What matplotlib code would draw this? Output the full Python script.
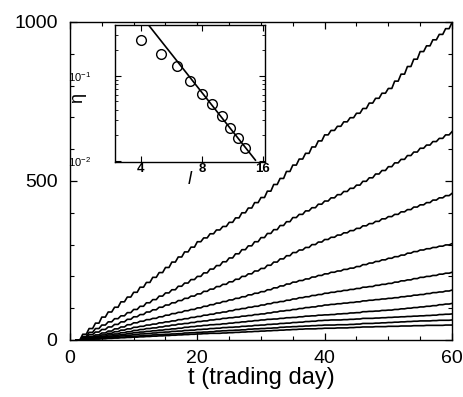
import numpy as np
import matplotlib
matplotlib.use("Agg")
import matplotlib.pyplot as plt
from matplotlib.ticker import MultipleLocator, FixedLocator, FixedFormatter, NullLocator, LogLocator

plt.rcParams['font.family'] = ['Liberation Sans', 'DejaVu Sans']
plt.rcParams['mathtext.fontset'] = 'custom'
plt.rcParams['mathtext.rm'] = 'Liberation Sans'
plt.rcParams['mathtext.it'] = 'Liberation Sans:italic'

# trading days
days = np.arange(1, 61)

# cumulative curves, one per threshold l (top = smallest l)
c1 = [0,18,36,53,72, 88,103,120,135,150, 166,181,197,212,228, 245,261,277,292,309,
      321,334,346,357,370, 384,400,415,432,448, 468,489,508,530,550, 569,587,607,626,645,
      659,672,686,699,713, 728,745,760,776,791, 814,836,860,883,907, 925,944,961,979,998]
c2 = [0,11,24,36,47, 57,67,76,86,96, 106,117,127,138,148, 158,169,179,190,200,
      211,223,234,246,258, 271,284,296,309,322, 335,347,360,372,385, 395,406,416,427,437,
      447,457,467,477,487, 499,510,522,533,545, 557,568,580,591,603, 613,624,634,645,655]
c3 = [0,8,17,25,33, 41,49,57,65,73, 80,88,95,103,110, 117,124,131,138,145,
      153,160,168,175,183, 191,200,208,217,225, 235,245,255,265,275, 283,291,300,308,316,
      323,330,337,344,351, 359,366,373,381,388, 395,403,410,418,425, 432,440,447,454,461]
c4 = [0,5,11,16,22, 28,35,41,48,54, 59,64,68,73,78, 83,87,92,96,101,
      106,111,116,121,126, 131,136,142,147,152, 158,164,170,176,182, 187,192,198,203,208,
      213,217,222,226,231, 237,242,247,252,257, 262,267,273,278,283, 287,291,295,299,303]
c5 = [0,4,8,12,16, 21,26,31,35,40, 43,47,50,54,57, 60,64,67,71,74,
      78,81,85,88,92, 96,99,103,106,110, 114,118,121,125,129, 133,136,140,143,147,
      150,153,156,159,162, 166,168,172,175,178, 182,186,189,193,197, 200,203,207,210,213]
c6 = [0,3,6,9,12, 16,19,23,26,30, 33,36,38,41,44, 47,50,52,55,58,
      60,63,65,68,70, 72,75,77,80,82, 85,88,91,93,96, 99,102,104,107,110,
      112,114,116,118,120, 123,125,127,129,131, 133,136,138,141,143, 146,149,151,154,157]
c7 = [0,2,5,7,9, 12,15,17,20,23, 25,27,29,31,33, 35,37,40,42,44,
      46,48,49,51,53, 55,57,59,61,63, 65,66,68,70,71, 73,75,76,78,79,
      80,82,83,85,86, 89,90,91,93,94, 96,98,100,102,104, 106,108,111,113,115]
c8 = [0,2,3,5,7, 9,11,13,15,17, 19,20,22,24,25, 27,28,30,31,33,
      34,36,37,39,40, 41,43,44,46,47, 49,50,52,53,55, 56,58,59,61,62,
      63,63,64,65,66, 68,68,69,70,71, 72,73,74,75,76, 77,78,80,81,82]
c9 = [0,1,2,4,5, 6,8,9,11,12, 13,14,16,17,18, 19,20,22,23,24,
      25,26,28,29,30, 31,32,34,35,36, 37,38,40,41,42, 43,44,45,46,47,
      47,48,48,49,50, 52,52,53,54,55, 56,57,58,59,60, 60,61,62,62,63]
c10 = [0,1,2,3,4, 5,6,7,8,9, 10,11,12,13,14, 15,16,17,18,19,
       20,21,21,22,23, 24,25,26,27,28, 29,30,31,32,33, 34,35,35,36,37,
       37,38,38,39,40, 41,41,42,42,43, 43,44,44,45,45, 46,46,46,47,47]
curves = [c1, c2, c3, c4, c5, c6, c7, c8, c9, c10]

# inset data
l_vals = [4, 5, 6, 7, 8, 9, 10, 11, 12, 13]
eta_vals = [0.263, 0.178, 0.128, 0.087, 0.061, 0.046, 0.034, 0.0243, 0.0187, 0.0141]
fit_l = [4.4, 14.7]
fit_eta = [0.38, 0.0103]

fig = plt.figure(figsize=(4.63, 3.97), dpi=100)
ax = fig.add_axes([0.1512, 0.1436, 0.825, 0.801])

# each day: flat part, then a sloped rise to the next day's value
xs = np.column_stack([days, days + 0.55]).ravel()[:-1]
for c in curves:
    ys = np.repeat(np.asarray(c, float), 2)[:-1]
    ax.plot(xs, ys, color='black', linewidth=1.2)

ax.set_xlim(0, 60)
ax.set_ylim(0, 1000)
ax.xaxis.set_major_locator(MultipleLocator(20))
ax.xaxis.set_minor_locator(MultipleLocator(5))
ax.yaxis.set_major_locator(MultipleLocator(500))
ax.yaxis.set_minor_locator(MultipleLocator(100))
ax.tick_params(which='both', direction='in', top=True, right=True, labelsize=14)
ax.tick_params(which='major', length=5, width=0.9)
ax.tick_params(which='minor', length=3, width=0.8)
ax.tick_params(axis='y', pad=9)
ax.tick_params(axis='x', pad=7)
ax.set_xlabel('t (trading day)', fontsize=17, labelpad=0)
for s in ax.spines.values():
    s.set_linewidth(1.0)

# inset
ins = fig.add_axes([0.2484, 0.592, 0.324, 0.345])
ins.set_xscale('log')
ins.set_yscale('log')
ins.plot(l_vals, eta_vals, linestyle='none', marker='o', markersize=7,
         markerfacecolor='none', markeredgecolor='black', markeredgewidth=1.0)
ins.plot(fit_l, fit_eta, color='black', linewidth=1.2)
ins.set_xlim(2.98, 16.4)
ins.set_ylim(0.0098, 0.39)
ins.xaxis.set_major_locator(FixedLocator([4, 8, 16]))
ins.xaxis.set_major_formatter(FixedFormatter(['4', '8', '16']))
ins.xaxis.set_minor_locator(NullLocator())
ins.yaxis.set_major_locator(LogLocator(base=10, numticks=5))
ins.yaxis.set_minor_locator(LogLocator(base=10, subs=np.arange(2, 10), numticks=12))
ins.tick_params(which='both', direction='in', top=True, right=True)
ins.tick_params(which='major', length=4, width=0.8)
ins.tick_params(which='minor', length=2, width=0.6)
ins.tick_params(axis='x', labelsize=9.5, pad=1)
ins.tick_params(axis='y', labelsize=8, pad=17)
for lab in ins.get_xticklabels():
    lab.set_fontweight('bold')
ins.set_xlabel('$l$', fontsize=13, labelpad=-3)
ins.set_ylabel('η', fontsize=13, rotation=90)
ins.yaxis.set_label_coords(-0.19, 0.47)
for s in ins.spines.values():
    s.set_linewidth(1.0)

fig.savefig('out.png', dpi=100)
